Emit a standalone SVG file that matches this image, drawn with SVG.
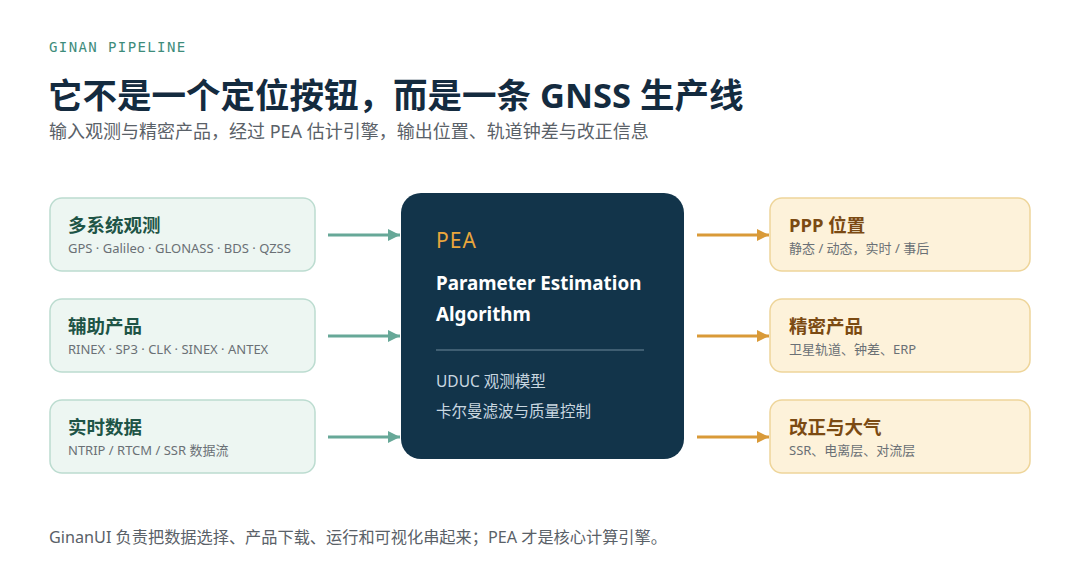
<svg xmlns="http://www.w3.org/2000/svg" width="1080" height="585" viewBox="0 0 1080 585">
<defs>
<marker id="ah-g" viewBox="0 0 12 12" refX="12" refY="6" markerWidth="12" markerHeight="12" markerUnits="userSpaceOnUse" orient="auto"><path d="M0,0 L12,6 L0,12 Z" fill="#67a898"/></marker>
<marker id="ah-o" viewBox="0 0 12 12" refX="12" refY="6" markerWidth="12" markerHeight="12" markerUnits="userSpaceOnUse" orient="auto"><path d="M0,0 L12,6 L0,12 Z" fill="#d99a38"/></marker>
</defs>
<style>
.cn{font-family:"Noto Sans","Noto Sans CJK SC",sans-serif}
.kicker{font-family:"DejaVu Sans Mono","Liberation Mono",monospace;font-size:14px;fill:#3e8c7b;letter-spacing:1.4px}
.title{font-size:34.5px;font-weight:700;fill:#142b3f}
.sub{font-size:18px;fill:#5a6168}
.inbox{fill:#edf6f2;stroke:#bcdcd0;stroke-width:1.5}
.outbox{fill:#fdf2da;stroke:#eed59a;stroke-width:1.5}
.ih{font-size:18.5px;font-weight:700;fill:#1e5446}
.oh{font-size:18.5px;font-weight:700;fill:#7b4a12}
.bs{font-size:13px;fill:#6a7075}
.ga{stroke:#67a898;stroke-width:3;fill:none}
.oa{stroke:#d99a38;stroke-width:3;fill:none}
.foot{font-size:16.2px;fill:#5a6168}
</style>
<rect width="1080" height="585" fill="#ffffff"/>
<text x="49" y="52" class="kicker">GINAN PIPELINE</text>
<text x="48" y="108" class="cn title">它不是一个定位按钮，而是一条 GNSS 生产线</text>
<text x="49" y="138" class="cn sub">输入观测与精密产品，经过 PEA 估计引擎，输出位置、轨道钟差与改正信息</text>

<g id="in-obs">
<rect x="50" y="198" width="265" height="73" rx="12" class="inbox"/>
<text x="68" y="232" class="cn ih">多系统观测</text>
<text x="68" y="253" class="cn bs">GPS · Galileo · GLONASS · BDS · QZSS</text>
</g>
<g id="in-prod">
<rect x="50" y="299" width="265" height="73" rx="12" class="inbox"/>
<text x="68" y="333" class="cn ih">辅助产品</text>
<text x="68" y="354" class="cn bs">RINEX · SP3 · CLK · SINEX · ANTEX</text>
</g>
<g id="in-rt">
<rect x="50" y="400" width="265" height="73" rx="12" class="inbox"/>
<text x="68" y="434" class="cn ih">实时数据</text>
<text x="68" y="455" class="cn bs">NTRIP / RTCM / SSR 数据流</text>
</g>

<g id="pea">
<rect x="401" y="193" width="283" height="266" rx="20" fill="#12344a"/>
<text x="436" y="248" class="cn" font-size="21" fill="#e9a63c" letter-spacing="1">PEA</text>
<text x="436" y="290" class="cn" font-size="18.8" font-weight="700" fill="#ffffff">Parameter Estimation</text>
<text x="436" y="321" class="cn" font-size="18.8" font-weight="700" fill="#ffffff">Algorithm</text>
<line x1="436" y1="350" x2="644" y2="350" stroke="#4f6d80" stroke-width="1.5"/>
<text x="436" y="387" class="cn" font-size="15.5" fill="#c9d7e0">UDUC 观测模型</text>
<text x="436" y="417" class="cn" font-size="15.5" fill="#c9d7e0">卡尔曼滤波与质量控制</text>
</g>

<g id="out-ppp">
<rect x="770" y="198" width="260" height="73" rx="12" class="outbox"/>
<text x="789" y="232" class="cn oh">PPP 位置</text>
<text x="789" y="253" class="cn bs">静态 / 动态，实时 / 事后</text>
</g>
<g id="out-prod">
<rect x="770" y="299" width="260" height="73" rx="12" class="outbox"/>
<text x="789" y="333" class="cn oh">精密产品</text>
<text x="789" y="354" class="cn bs">卫星轨道、钟差、ERP</text>
</g>
<g id="out-corr">
<rect x="770" y="400" width="260" height="73" rx="12" class="outbox"/>
<text x="789" y="434" class="cn oh">改正与大气</text>
<text x="789" y="455" class="cn bs">SSR、电离层、对流层</text>
</g>

<g id="connectors">
<line x1="328" y1="235" x2="400" y2="235" class="ga" marker-end="url(#ah-g)"/>
<line x1="328" y1="336" x2="400" y2="336" class="ga" marker-end="url(#ah-g)"/>
<line x1="328" y1="437" x2="400" y2="437" class="ga" marker-end="url(#ah-g)"/>
<line x1="697" y1="235" x2="769" y2="235" class="oa" marker-end="url(#ah-o)"/>
<line x1="697" y1="336" x2="769" y2="336" class="oa" marker-end="url(#ah-o)"/>
<line x1="697" y1="437" x2="769" y2="437" class="oa" marker-end="url(#ah-o)"/>
</g>

<text x="49" y="543" class="cn foot">GinanUI 负责把数据选择、产品下载、运行和可视化串起来；PEA 才是核心计算引擎。</text>
</svg>
